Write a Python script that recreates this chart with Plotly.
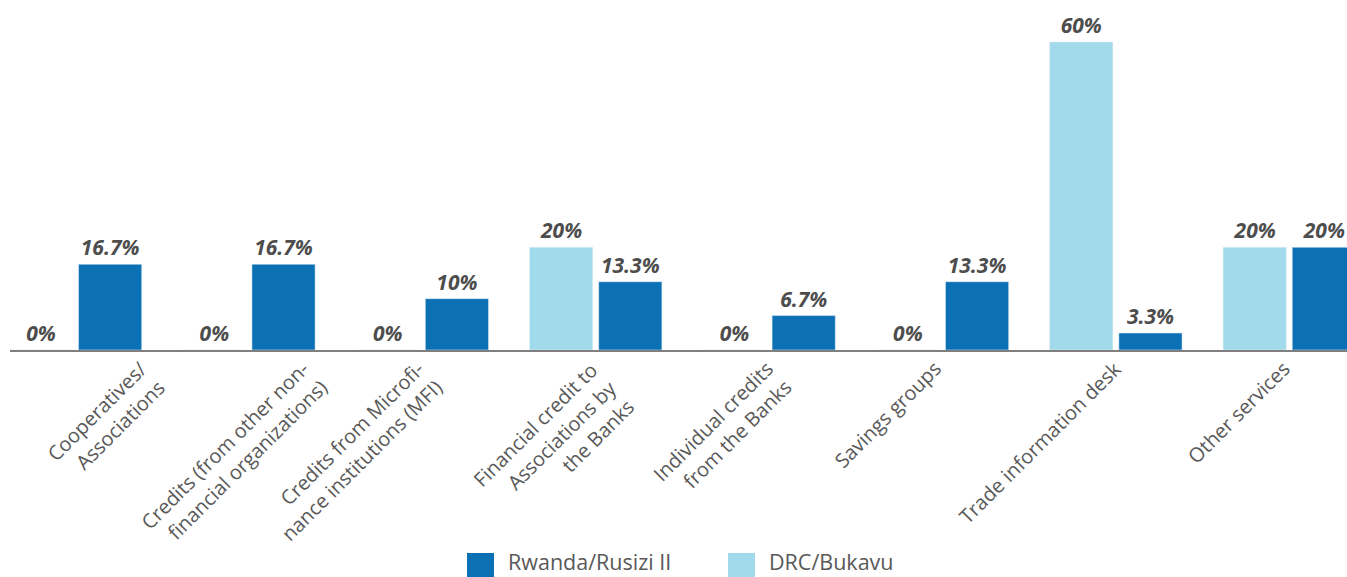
import plotly.graph_objects as go

categories = [
    "Cooperatives/<br>Associations",
    "Credits (from other non-<br>financial organizations)",
    "Credits from Microfi-<br>nance institutions (MFI)",
    "Financial credit to<br>Associations by<br>the Banks",
    "Individual credits<br>from the Banks",
    "Savings groups",
    "Trade information desk",
    "Other services",
]
drc_values = [0, 0, 0, 20, 0, 0, 60, 20]
rwanda_values = [16.7, 16.7, 10, 13.3, 6.7, 13.3, 3.3, 20]
series_names = ["Rwanda/Rusizi II", "DRC/Bukavu"]

# style / layout tweaks (pixel offsets of rotated category labels)
label_dx = [98, 87, 28, 48, 31, 7, 14, 9]
DARK = "#0b71b4"
LIGHT = "#a1dbeb"
TXT = "#595959"
VAL = "#4d4d4d"
FONT = "Open Sans"

W, H = 1347, 577
ML, MR, MT, MB = 10, 0, 0, 227
pw, ph = W - ML - MR, H - MT - MB

x_idx = list(range(len(categories)))


def fmt(v):
    return f"{v:g}%"


fig = go.Figure()
fig.add_trace(go.Bar(
    x=x_idx, y=drc_values, name=series_names[1], marker_color=LIGHT,
    text=[fmt(v) for v in drc_values], textposition="outside",
    textfont=dict(family=FONT, size=21, color=VAL, weight="bold", style="italic"),
    cliponaxis=False, constraintext="none", showlegend=False,
))
fig.add_trace(go.Bar(
    x=x_idx, y=rwanda_values, name=series_names[0], marker_color=DARK,
    text=[fmt(v) for v in rwanda_values], textposition="outside",
    textfont=dict(family=FONT, size=21, color=VAL, weight="bold", style="italic"),
    cliponaxis=False, constraintext="none", showlegend=False,
))

annotations = []
for i, lab in enumerate(categories):
    annotations.append(dict(
        x=i, xref="x", y=0, yref="paper", text=lab, showarrow=False,
        textangle=-45, xanchor="right", yanchor="top", align="right",
        xshift=label_dx[i], yshift=-3,
        font=dict(family=FONT, size=20, color=TXT),
    ))

# manual legend
shapes = []
leg = [(467, 507, DARK, series_names[0]), (728, 768, LIGHT, series_names[1])]
for sx, tx, col, name in leg:
    shapes.append(dict(
        type="rect", xref="paper", yref="paper",
        x0=(sx - ML) / pw, x1=(sx + 27 - ML) / pw,
        y0=(ph - 580) / ph, y1=(ph - 553) / ph,
        fillcolor=col, line=dict(width=0),
    ))
    annotations.append(dict(
        x=(tx - ML) / pw, xref="paper", y=(ph - 561.5) / ph, yref="paper",
        text=name, showarrow=False, xanchor="left", yanchor="middle",
        borderpad=0,
        font=dict(family=FONT, size=21.5, color=TXT),
    ))

fig.update_layout(
    width=W, height=H,
    margin=dict(l=ML, r=MR, t=MT, b=MB),
    paper_bgcolor="white", plot_bgcolor="white",
    barmode="group", bargap=0.202, bargroupgap=0.087,
    xaxis=dict(range=[-0.378, 7.333], showticklabels=False, showgrid=False,
               zeroline=False, showline=True, linecolor="#7f7f7f", linewidth=2,
               ticks="", fixedrange=True),
    yaxis=dict(range=[0, 68.18], visible=False, showgrid=False, zeroline=False,
               fixedrange=True),
    annotations=annotations, shapes=shapes,
    showlegend=False,
)

fig.write_html(
    "out.html",
    config={"displayModeBar": False},
    post_script="document.body.style.margin='0';document.body.style.overflow='hidden';",
)
